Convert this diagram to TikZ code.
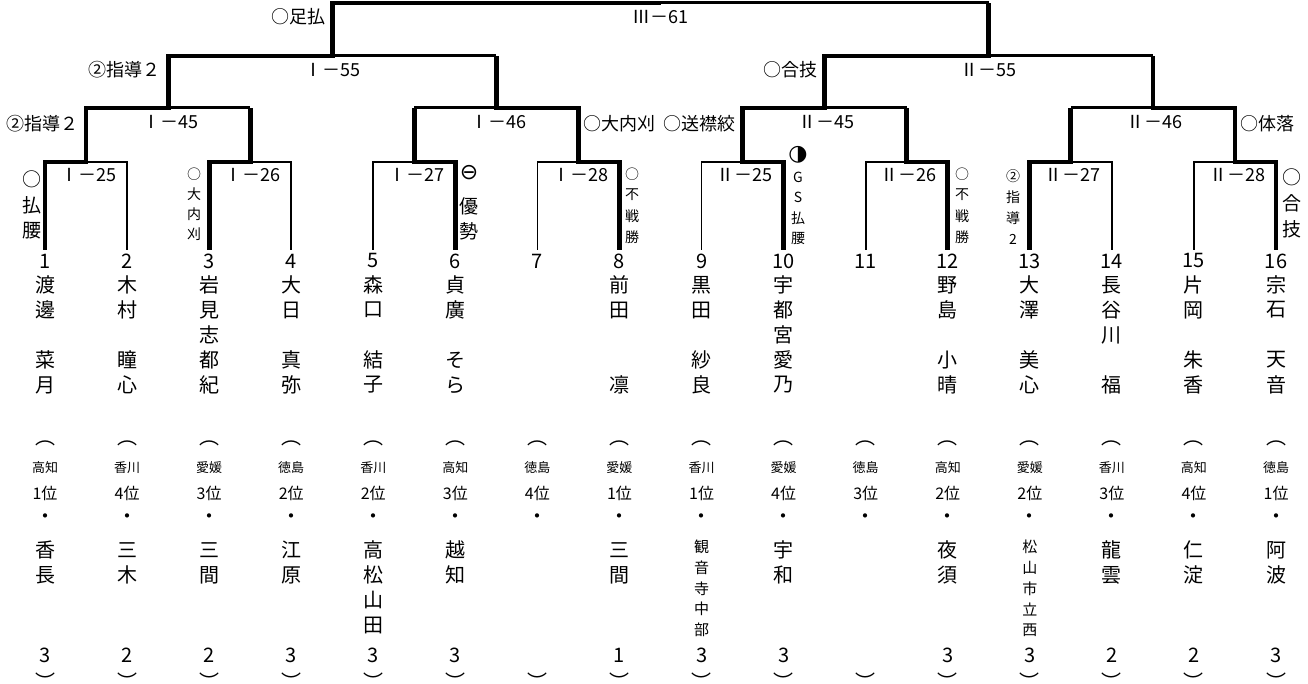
\documentclass[tikz,border=0pt]{standalone}
\usepackage{fontspec}
\setmainfont{Noto Sans CJK JP}
\newfontfamily\symfont{DejaVu Sans}
\usetikzlibrary{calc}
\newcommand\fsz[1]{\fontsize{#1}{#1}\selectfont}
% one character per row, top to bottom
\newcommand\tatelab[6]{\foreach \chr [count=\cn from 0] in {#6} \node[#5] (#1\cn) at (#2,{#3+\cn*#4}) {\chr};}
\begin{document}
\begin{tikzpicture}[
  x=1pt, y=-1pt,
  thinline/.style={line width=1.6pt},
  midline/.style={line width=3pt},
  winline/.style={line width=4.8pt},
  numtxt/.style={inner sep=0pt, font=\fsz{20}},
  nametxt/.style={inner sep=0pt, font=\fsz{20}},
  preftxt/.style={inner sep=0pt, font=\fsz{13}},
  ranktxt/.style={inner sep=0pt, font=\fsz{16}},
  mlab/.style={inner sep=0pt, font=\fsz{18}},
  rlab/.style={inner sep=0pt, font=\fsz{18}},
  tbig/.style={inner sep=0pt, font=\fsz{19}},
  tsml/.style={inner sep=0pt, font=\fsz{14}},
  symtxt/.style={inner sep=0pt, font=\symfont\fsz{22}},
]
\useasboundingbox (0,0) rectangle (1308,684);

% bracket points
\foreach \i in {1,...,16} \coordinate (p\i) at ({45+(\i-1)*82.07},250);
\foreach \k in {1,...,8} \coordinate (m\k) at ({45+(2*\k-1.5)*82.07},162);
\foreach \k in {1,...,4} \coordinate (q\k) at ({45+(4*\k-2.5)*82.07},108);
\foreach \k in {1,2} \coordinate (r\k) at ({45+(8*\k-4.5)*82.07},56);
\coordinate (fin) at ({45+7.5*82.07},3);

% first round losers
\foreach \i/\k in {2/1,4/2,5/3,7/4,9/5,11/6,14/7,15/8} \draw[thinline] (p\i) |- (m\k);

% losing sides of later rounds
\draw[midline] (m2 |- q1) -- (q1);
\draw[midline] (m3 |- q2) -- (q2);
\draw[midline] (m6 |- q3) -- (q3);
\draw[midline] (m7 |- q4) -- (q4);
\draw[midline] (q2 |- r1) -- (r1);
\draw[midline] (q4 |- r2) -- (r2);
\draw[midline] (r2 |- fin) -- (fin);

% winners
\draw[winline] (p1) |- (m1) |- (q1) |- (r1) |- (fin);
\draw[winline] (p3) |- (m2) -- (m2 |- q1);
\draw[winline] (p6) |- (m3) -- (m3 |- q2);
\draw[winline] (p8) |- (m4) |- (q2) -- (q2 |- r1);
\draw[winline] (p10) |- (m5) |- (q3) |- (r2) -- (r2 |- fin);
\draw[winline] (p12) |- (m6) -- (m6 |- q3);
\draw[winline] (p13) |- (m7) -- (m7 |- q4);
\draw[winline] (p16) |- (m8) |- (q4) -- (q4 |- r2);

% match numbers
\foreach \k/\t in {1/Ⅰ－25,2/Ⅰ－26,3/Ⅰ－27,4/Ⅰ－28,5/Ⅱ－25,6/Ⅱ－26,7/Ⅱ－27,8/Ⅱ－28}
  \node[mlab] (mt\k) at ($(m\k)+(2,13)$) {\t};
\foreach \k/\t in {1/Ⅰ－45,2/Ⅰ－46,3/Ⅱ－45,4/Ⅱ－46}
  \node[mlab] (qt\k) at ($(q\k)+(2,14)$) {\t};
\foreach \k/\t in {1/Ⅰ－55,2/Ⅱ－55}
  \node[mlab] (rt\k) at ($(r\k)+(0,14)$) {\t};
\node[mlab] (ft) at ($(fin)+(0,14)$) {Ⅲ－61};

% how the bouts were won
\node[rlab, anchor=east] (w61) at (326,17) {○足払};
\node[rlab, anchor=east] (w55a) at (161,70) {②指導２};
\node[rlab, anchor=east] (w45a) at (79,124) {②指導２};
\node[rlab, anchor=west] (w46a) at (583,124) {○大内刈};
\node[rlab, anchor=east] (w45b) at (736,124) {○送襟絞};
\node[rlab, anchor=east] (w55b) at (818,70) {○合技};
\node[rlab, anchor=west] (w46b) at (1240,124) {○体落};

\tatelab{v1-}{32}{179}{26}{tbig}{○,払,腰}
\tatelab{v3-}{194}{174}{20}{tsml}{○,大,内,刈}
\node[symtxt] (v6s) at (469,173) {⊖};
\tatelab{v6-}{469}{206}{25}{tbig}{優,勢}
\tatelab{v8-}{632}{174}{21}{tsml}{○,不,戦,勝}
\node[symtxt] (v10s) at (798,155) {◑};
\tatelab{v10-}{798}{177}{20.5}{tsml}{G,S,払,腰}
\tatelab{v12-}{962}{174}{21}{tsml}{○,不,戦,勝}
\tatelab{v13-}{1013}{176}{21}{tsml}{②,指,導,2}
\tatelab{v16-}{1292}{177}{26}{tbig}{○,合,技}

% players
\foreach \i/\nam/\pref/\rank/\sch/\sy/\sd/\sfs/\gr in {
  1/{渡,邊,{},菜,月}/高知/1位/{香,長}/550/25/20/3,
  2/{木,村,{},瞳,心}/香川/4位/{三,木}/550/25/20/2,
  3/{岩,見,志,都,紀}/愛媛/3位/{三,間}/550/25/20/2,
  4/{大,日,{},真,弥}/徳島/2位/{江,原}/550/25/20/3,
  5/{森,口,{},結,子}/香川/2位/{高,松,山,田}/550/25/20/3,
  6/{貞,廣,{},そ,ら}/高知/3位/{越,知}/550/25/20/3,
  7/{}/徳島/4位/{}/550/25/20/{},
  8/{前,田,{},{},凛}/愛媛/1位/{三,間}/550/25/20/1,
  9/{黒,田,{},紗,良}/香川/1位/{観,音,寺,中,部}/547/20.75/15/3,
  10/{宇,都,宮,愛,乃}/愛媛/4位/{宇,和}/550/25/20/3,
  11/{}/徳島/3位/{}/550/25/20/{},
  12/{野,島,{},小,晴}/高知/2位/{夜,須}/550/25/20/3,
  13/{大,澤,{},美,心}/愛媛/2位/{松,山,市,立,西}/547/20.75/15/3,
  14/{長,谷,川,{},福}/香川/3位/{龍,雲}/550/25/20/2,
  15/{片,岡,{},朱,香}/高知/4位/{仁,淀}/550/25/20/2,
  16/{宗,石,{},天,音}/徳島/1位/{阿,波}/550/25/20/3}{
  \pgfmathsetmacro\xx{45+(\i-1)*82.07}
  \node[numtxt] (no\i) at (\xx,261) {\i};
  \foreach \chr [count=\cn from 0] in \nam \node[nametxt] (nm\i-\cn) at (\xx,{285+\cn*25}) {\chr};
  \node[nametxt] (lp\i) at (\xx,443) {︵};
  \node[preftxt] (pf\i) at (\xx,468) {\pref};
  \node[ranktxt] (rk\i) at (\xx,493) {\rank};
  \node[nametxt] (dt\i) at (\xx,519) {・};
  \foreach \chr [count=\cn from 0] in \sch \node[inner sep=0pt, font=\fsz{\sfs}] (sc\i-\cn) at (\xx,{\sy+\cn*\sd}) {\chr};
  \node[numtxt] (gr\i) at (\xx,655) {\gr};
  \node[nametxt] (rp\i) at (\xx,674) {\raisebox{-15pt}[0pt][0pt]{︶}};
}
\end{tikzpicture}
\end{document}
